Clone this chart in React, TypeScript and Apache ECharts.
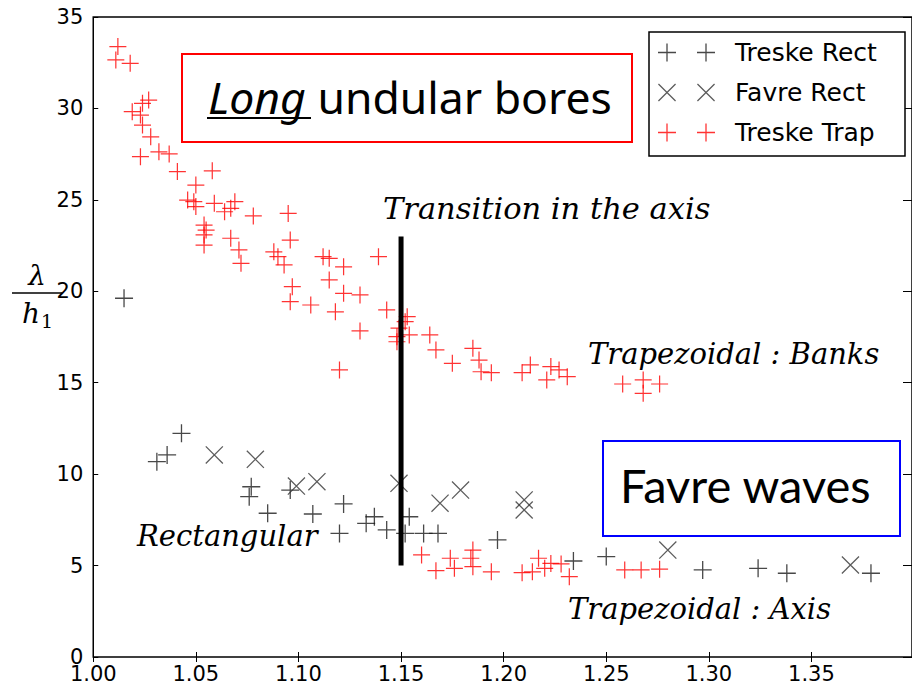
import React, { useEffect, useRef } from "react";
import * as echarts from "echarts";

const seriesNames = ["Treske Rect", "Favre Rect", "Treske Trap"];

const treskeRect: [number, number][] = [
  [1.015, 19.62], [1.031, 10.68], [1.036, 11.05], [1.043, 12.23], [1.077, 9.31],
  [1.076, 8.77], [1.085, 7.86], [1.096, 9.13], [1.107, 7.82], [1.122, 8.37],
  [1.12, 6.76], [1.133, 7.31], [1.137, 7.67], [1.143, 6.95], [1.154, 7.67],
  [1.152, 6.76], [1.161, 6.76], [1.168, 6.76], [1.197, 6.4], [1.234, 5.25],
  [1.25, 5.49], [1.297, 4.76], [1.324, 4.85], [1.338, 4.58], [1.379, 4.58],
];

const favreRect: [number, number][] = [
  [1.059, 11.05], [1.079, 10.81], [1.099, 9.35], [1.109, 9.59], [1.149, 9.5],
  [1.169, 8.41], [1.179, 9.13], [1.21, 8.59], [1.21, 8.04], [1.28, 5.85], [1.369, 5.03],
];

const treskeTrap: [number, number][] = [
  [1.012, 33.38], [1.011, 32.65], [1.018, 32.47], [1.027, 30.46], [1.024, 30.28],
  [1.019, 29.82], [1.023, 29.64], [1.024, 29.09], [1.028, 28.45], [1.023, 27.36],
  [1.032, 27.63], [1.037, 27.51], [1.041, 26.55], [1.058, 26.59], [1.05, 25.81],
  [1.046, 24.99], [1.049, 24.9], [1.05, 24.63], [1.059, 24.81], [1.064, 24.35],
  [1.069, 24.9], [1.067, 24.54], [1.078, 24.12], [1.095, 24.26], [1.054, 23.62],
  [1.055, 23.35], [1.054, 23.08], [1.054, 22.53], [1.067, 22.9], [1.071, 22.26],
  [1.072, 21.53], [1.096, 22.8], [1.088, 22.16], [1.09, 21.89], [1.093, 21.44],
  [1.112, 21.89], [1.115, 21.8], [1.122, 21.34], [1.139, 21.89], [1.115, 20.62],
  [1.122, 19.89], [1.13, 19.8], [1.097, 20.25], [1.096, 19.43], [1.106, 19.25],
  [1.118, 18.88], [1.143, 18.98], [1.153, 18.61], [1.152, 18.34], [1.149, 17.98],
  [1.148, 17.52], [1.148, 17.24], [1.154, 17.61], [1.164, 17.61], [1.167, 16.79],
  [1.175, 16.06], [1.185, 16.88], [1.188, 16.24], [1.189, 15.6], [1.194, 15.55],
  [1.209, 15.55], [1.213, 15.97], [1.221, 15.15], [1.223, 15.88], [1.227, 15.7],
  [1.231, 15.33], [1.258, 14.93], [1.268, 15.15], [1.268, 14.42], [1.276, 14.93],
  [1.13, 17.83], [1.12, 15.7],
  [1.16, 5.58], [1.167, 4.72], [1.174, 5.4], [1.176, 4.85], [1.185, 5.85],
  [1.184, 5.4], [1.185, 4.94], [1.194, 4.66], [1.209, 4.61], [1.214, 4.66],
  [1.217, 5.4], [1.22, 4.85], [1.223, 5.12], [1.228, 5.09], [1.232, 4.39],
  [1.259, 4.76], [1.267, 4.76], [1.276, 4.8],
];

const transitionLine: [number, number][] = [
  [1.15, 5],
  [1.15, 23],
];

const PLUS = "path://M0,8.35H18V9.65H0Z M8.35,0H9.65V18H8.35Z";
const CROSS = "path://M0,0.9L0.9,0L18,17.1L17.1,18Z M17.1,0L18,0.9L0.9,18L0,17.1Z";
const PLUS2 =
  "path://M0,8.35H18V9.65H0Z M8.35,0H9.65V18H8.35Z M39,8.35H57V9.65H39Z M47.35,0H48.65V18H47.35Z M71.9,8.99H72V9.01H71.9Z";
const CROSS2 =
  "path://M0,0.9L0.9,0L18,17.1L17.1,18Z M17.1,0L18,0.9L0.9,18L0,17.1Z M39,0.9L39.9,0L57,17.1L56.1,18Z M56.1,0L57,0.9L39.9,18L39,17.1Z M71.9,8.99H72V9.01H71.9Z";

const MATH_FONT = "DejaVu Serif";

export default function App() {
  const ref = useRef<HTMLDivElement>(null);

  useEffect(() => {
    if (!ref.current) return;
    const chart = echarts.init(ref.current, undefined, { renderer: "svg" });

    const tickStyle = { show: true, inside: true, length: 5, lineStyle: { color: "#000", width: 1 } };
    const labelFont = { fontFamily: "DejaVu Sans", fontSize: 21, color: "#000" };

    const mathText = (text: string, x: number, y: number, size = 29) => ({
      type: "text",
      x,
      y,
      silent: true,
      style: {
        text,
        fontFamily: MATH_FONT,
        fontStyle: "italic",
        fontSize: size,
        fill: "#000",
        verticalAlign: "middle",
      },
    });

    chart.setOption({
      animation: false,
      backgroundColor: "#fff",
      grid: {
        left: 93.25,
        top: 17,
        width: 824,
        height: 640,
        show: true,
        borderColor: "#000",
        borderWidth: 1.5,
        backgroundColor: "transparent",
        containLabel: false,
      },
      xAxis: [
        {
          type: "value",
          min: 1,
          max: 1.399,
          interval: 0.05,
          position: "bottom",
          axisLine: { show: false },
          axisTick: tickStyle,
          splitLine: { show: false },
          axisLabel: {
            ...labelFont,
            margin: 6,
            showMaxLabel: false,
            formatter: (v: number) => v.toFixed(2),
          },
        },
        {
          type: "value",
          min: 1,
          max: 1.399,
          interval: 0.05,
          position: "top",
          axisLine: { show: false },
          axisTick: tickStyle,
          splitLine: { show: false },
          axisLabel: { show: false },
        },
      ],
      yAxis: [
        {
          type: "value",
          min: 0,
          max: 35,
          interval: 5,
          position: "left",
          axisLine: { show: false },
          axisTick: tickStyle,
          splitLine: { show: false },
          axisLabel: { ...labelFont, margin: 10 },
        },
        {
          type: "value",
          min: 0,
          max: 35,
          interval: 5,
          position: "right",
          axisLine: { show: false },
          axisTick: { ...tickStyle, length: 9 },
          splitLine: { show: false },
          axisLabel: { show: false },
        },
      ],
      legend: {
        orient: "vertical",
        left: 649,
        top: 32,
        selectedMode: false,
        data: [
          { name: seriesNames[0], icon: PLUS2 },
          { name: seriesNames[1], icon: CROSS2 },
          { name: seriesNames[2], icon: PLUS2 },
        ],
        itemWidth: 72,
        itemHeight: 18,
        itemGap: 15,
        padding: [8, 12, 11, 9],
        borderColor: "#000",
        borderWidth: 1.5,
        borderRadius: 0,
        backgroundColor: "#fff",
        textStyle: {
          fontFamily: "DejaVu Sans",
          fontSize: 25,
          lineHeight: 24,
          color: "#000",
          width: 158,
        },
        z: 10,
      },
      series: [
        {
          name: seriesNames[0],
          type: "scatter",
          data: treskeRect,
          symbol: PLUS,
          symbolSize: 18,
          itemStyle: { color: "#1a1a1a" },
          silent: true,
        },
        {
          name: seriesNames[1],
          type: "scatter",
          data: favreRect,
          symbol: CROSS,
          symbolSize: 18,
          itemStyle: { color: "#333" },
          silent: true,
        },
        {
          name: seriesNames[2],
          type: "scatter",
          data: treskeTrap,
          symbol: PLUS,
          symbolSize: 17,
          itemStyle: { color: "#ff0000" },
          silent: true,
        },
        {
          name: "transition",
          type: "line",
          data: transitionLine,
          symbol: "none",
          lineStyle: { color: "#000", width: 5 },
          silent: true,
          z: 5,
        },
      ],
      graphic: [
        {
          type: "rect",
          silent: true,
          shape: { x: 182, y: 54, width: 450, height: 88 },
          style: { fill: "#fff", stroke: "#ff0000", lineWidth: 2 },
          z: 20,
        },
        {
          type: "text",
          x: 208,
          y: 96,
          silent: true,
          z: 21,
          style: {
            text: "{it|Long} undular bores",
            fontFamily: "Noto Sans",
            fontSize: 44.5,
            fill: "#000",
            verticalAlign: "middle",
            rich: {
              it: { fontFamily: "Noto Sans", fontSize: 44.5, fontStyle: "italic", fill: "#000" },
            },
          },
        },
        {
          type: "line",
          silent: true,
          z: 21,
          shape: { x1: 207, y1: 118, x2: 311, y2: 118 },
          style: { stroke: "#000", lineWidth: 2 },
        },
        {
          type: "rect",
          silent: true,
          shape: { x: 603, y: 441, width: 297, height: 95 },
          style: { fill: "#fff", stroke: "#0000ff", lineWidth: 2 },
          z: 20,
        },
        {
          type: "text",
          x: 620,
          y: 485,
          silent: true,
          z: 21,
          style: {
            text: "Favre waves",
            fontFamily: "Lato",
            fontSize: 47,
            fill: "#000",
            verticalAlign: "middle",
          },
        },
        { ...mathText("Transition in the axis", 383, 208, 30.5), z: 21 },
        { ...mathText("Trapezoidal : Banks", 588, 354), z: 21 },
        { ...mathText("Trapezoidal : Axis", 568, 609), z: 21 },
        { ...mathText("Rectangular", 137, 536), z: 21 },
        {
          type: "text",
          x: 37,
          y: 275,
          silent: true,
          style: {
            text: "λ",
            fontFamily: MATH_FONT,
            fontStyle: "italic",
            fontSize: 28,
            fill: "#000",
            align: "center",
            verticalAlign: "middle",
          },
        },
        {
          type: "line",
          silent: true,
          shape: { x1: 12, y1: 293, x2: 62, y2: 293 },
          style: { stroke: "#000", lineWidth: 1.5 },
        },
        {
          type: "text",
          x: 31,
          y: 313,
          silent: true,
          style: {
            text: "h",
            fontFamily: MATH_FONT,
            fontStyle: "italic",
            fontSize: 28,
            fill: "#000",
            align: "center",
            verticalAlign: "middle",
          },
        },
        {
          type: "text",
          x: 41,
          y: 321,
          silent: true,
          style: {
            text: "1",
            fontFamily: MATH_FONT,
            fontSize: 19,
            fill: "#000",
            align: "left",
            verticalAlign: "middle",
          },
        },
      ],
    });

    return () => chart.dispose();
  }, []);

  return (
    <div
      ref={ref}
      style={{ position: "fixed", left: 0, top: 0, width: 912, height: 689, background: "#fff" }}
    />
  );
}
